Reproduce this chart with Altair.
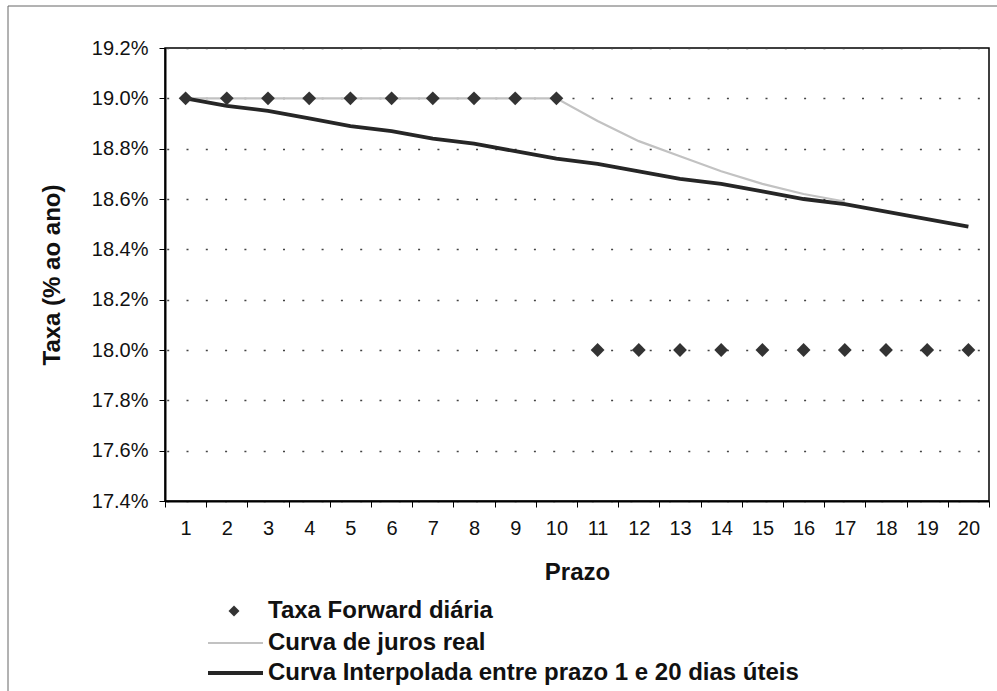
import altair as alt
import pandas as pd

# Prazo (dias úteis) e taxas em % ao ano
prazo = [1, 2, 3, 4, 5, 6, 7, 8, 9, 10, 11, 12, 13, 14, 15, 16, 17, 18, 19, 20]
taxa_forward = [19.0, 19.0, 19.0, 19.0, 19.0, 19.0, 19.0, 19.0, 19.0, 19.0,
                18.0, 18.0, 18.0, 18.0, 18.0, 18.0, 18.0, 18.0, 18.0, 18.0]
prazo_real = [1, 2, 3, 4, 5, 6, 7, 8, 9, 10, 11, 12, 13, 14, 15, 16, 17]
curva_real = [19.0, 19.0, 19.0, 19.0, 19.0, 19.0, 19.0, 19.0, 19.0, 19.0,
              18.91, 18.83, 18.77, 18.71, 18.66, 18.62, 18.59]
curva_interp = [19.00, 18.97, 18.95, 18.92, 18.89, 18.87, 18.84, 18.82, 18.79, 18.76,
                18.74, 18.71, 18.68, 18.66, 18.63, 18.60, 18.58, 18.55, 18.52, 18.49]
y_ticks = [17.4, 17.6, 17.8, 18.0, 18.2, 18.4, 18.6, 18.8, 19.0, 19.2]

legend_labels = [
    "Taxa Forward diária",
    "Curva de juros real",
    "Curva Interpolada entre prazo 1 e 20 dias úteis",
]

FONT = "Liberation Sans"
W, H = 824, 453

df_fwd = pd.DataFrame({"prazo": prazo, "taxa": taxa_forward})
df_real = pd.DataFrame({"prazo": prazo_real, "taxa": curva_real})
df_interp = pd.DataFrame({"prazo": prazo, "taxa": curva_interp})

x_enc = alt.X(
    "prazo:O",
    sort=prazo,
    bandPosition=0.5,
    scale=alt.Scale(type="band", paddingInner=0, paddingOuter=0),
    axis=alt.Axis(
        title="Prazo",
        labelAngle=0,
        tickBand="extent",
        tickSize=6,
        tickColor="#000",
        labelFontSize=20,
        labelPadding=11,
        labelColor="#111",
        titleFontSize=24,
        titleFontWeight="bold",
        titleColor="#111",
        titleY=71,
        titleBaseline="middle",
        grid=False,
    ),
)

y_enc = alt.Y(
    "taxa:Q",
    scale=alt.Scale(domain=[17.4, 19.2], nice=False, zero=False),
    axis=alt.Axis(
        title="Taxa (% ao ano)",
        values=y_ticks,
        labelExpr="format(datum.value, '.1f') + '%'",
        tickSize=6,
        tickColor="#000",
        labelFontSize=20,
        labelPadding=11,
        labelColor="#111",
        titleFontSize=24,
        titleFontWeight="bold",
        titleColor="#111",
        titleX=-113,
        titleY=H / 2,
        titleBaseline="middle",
        grid=True,
        gridDash=[2, 17.3],
        gridDashOffset=17.6,
        gridColor="#444",
        gridWidth=1.3,
    ),
)

real_line = alt.Chart(df_real).mark_line(color="#c2c2c2", strokeWidth=2.2).encode(x=x_enc, y=y_enc)
interp_line = alt.Chart(df_interp).mark_line(color="#262626", strokeWidth=3.8).encode(x=x_enc, y=y_enc)
fwd_points = alt.Chart(df_fwd).mark_point(
    shape="diamond", size=190, filled=True, color="#333333", opacity=1
).encode(x=x_enc, y=y_enc)

# Legenda desenhada abaixo do eixo
one = pd.DataFrame({"k": [0]})
leg_text_x = 103
leg_rows = [563, 595, 625]

leg_diamond = alt.Chart(one).mark_point(
    shape="diamond", size=120, filled=True, color="#333333", opacity=1
).encode(x=alt.value(69), y=alt.value(leg_rows[0]))
leg_gray = alt.Chart(one).mark_rule(color="#c2c2c2", strokeWidth=2.2).encode(
    x=alt.value(43), x2=alt.value(98), y=alt.value(leg_rows[1])
)
leg_black = alt.Chart(one).mark_rule(color="#262626", strokeWidth=3.8).encode(
    x=alt.value(43), x2=alt.value(98), y=alt.value(leg_rows[2])
)
leg_texts = [
    alt.Chart(one).mark_text(
        text=lbl, align="left", baseline="middle", font=FONT,
        fontSize=24, fontWeight="bold", color="#111"
    ).encode(x=alt.value(leg_text_x), y=alt.value(row))
    for lbl, row in zip(legend_labels, leg_rows)
]

# Moldura externa (bordas superior e esquerda)
frame_top = alt.Chart(one).mark_rule(color="#666", strokeWidth=1).encode(
    x=alt.value(-157), x2=alt.value(832), y=alt.value(-42)
)
frame_left = alt.Chart(one).mark_rule(color="#666", strokeWidth=1).encode(
    x=alt.value(-157), y=alt.value(-42), y2=alt.value(643)
)

chart = alt.layer(
    real_line, interp_line, fwd_points,
    leg_diamond, leg_gray, leg_black, *leg_texts,
    frame_top, frame_left,
).properties(
    width=W,
    height=H,
    autosize=alt.AutoSizeParams(type="none"),
    padding={"left": 165, "top": 48, "right": 8, "bottom": 190},
    background="white",
).configure_view(
    stroke="#000", strokeWidth=1.5
).configure_axis(
    domainColor="#000", domainWidth=2, labelFont=FONT, titleFont=FONT
)

chart.save("out.html", embed_options={"renderer": "svg", "actions": False})
